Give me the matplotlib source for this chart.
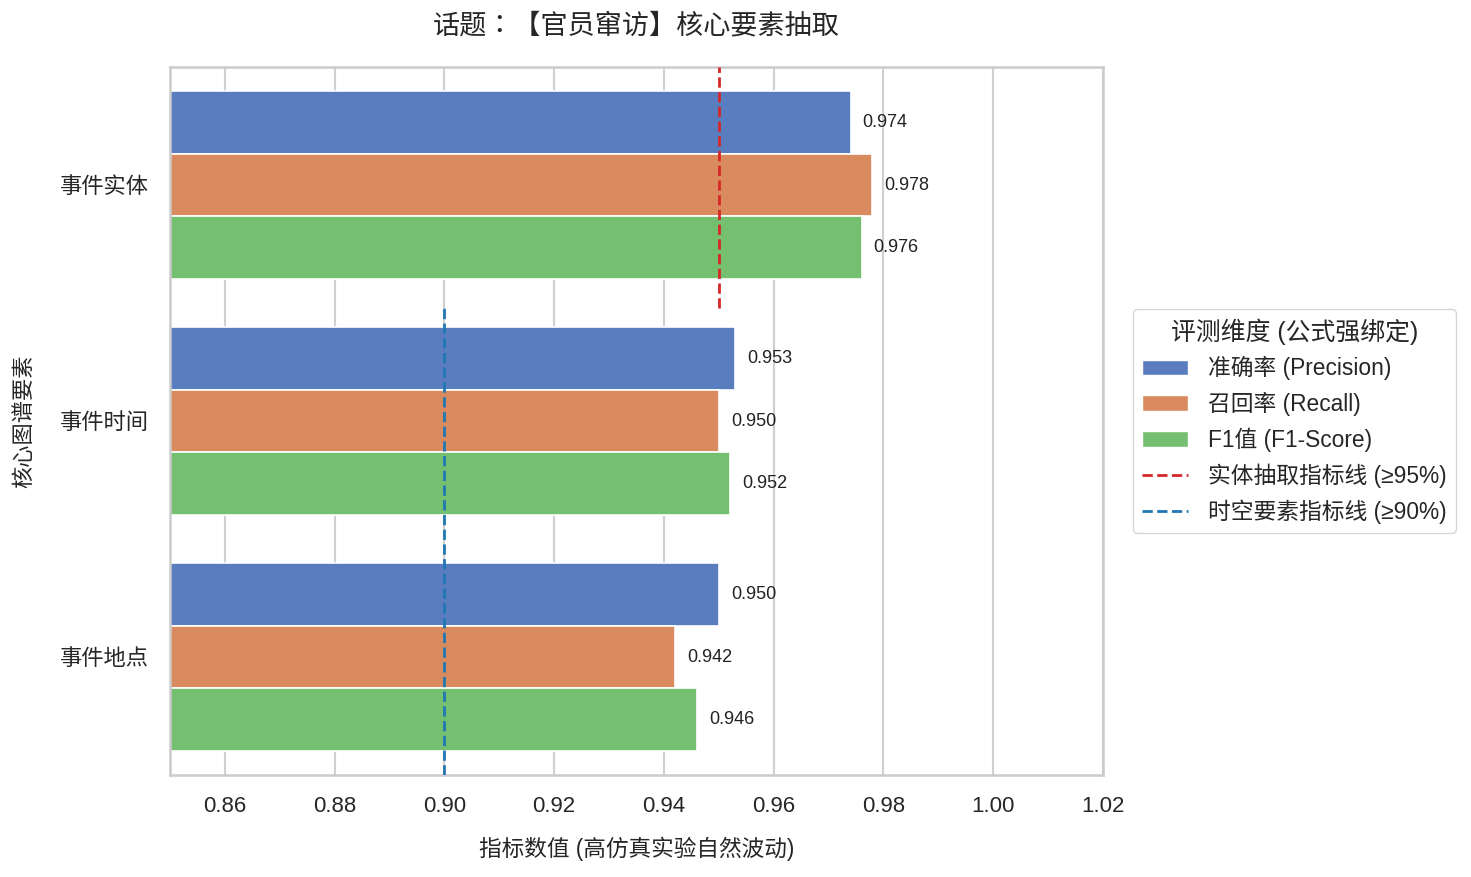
import numpy as np
import matplotlib
matplotlib.use("Agg")
import matplotlib.pyplot as plt
import seaborn as sns
from matplotlib.patches import Patch
from matplotlib.lines import Line2D

# ---------------- DATA ----------------
categories = ["事件实体", "事件时间", "事件地点"]
metric_names = ["准确率 (Precision)", "召回率 (Recall)", "F1值 (F1-Score)"]
precision = [0.974, 0.953, 0.950]
recall = [0.978, 0.950, 0.942]
f1 = [0.976, 0.952, 0.946]
entity_target = 0.95
spacetime_target = 0.90
x_ticks = [0.86, 0.88, 0.90, 0.92, 0.94, 0.96, 0.98, 1.00, 1.02]

# ---------------- STYLE ----------------
sns.set_theme(style="whitegrid")
plt.rcParams['font.family'] = ['Liberation Sans', 'Noto Sans CJK SC', 'DejaVu Sans']
plt.rcParams['axes.unicode_minus'] = False

palette = [sns.desaturate(c, 0.75) for c in sns.color_palette("muted", 3)]

fig = plt.figure(figsize=(14.71, 8.77), dpi=100)
ax = fig.add_axes([170 / 1471, 1 - 775 / 877, 933 / 1471, 708 / 877])

# ---------------- BARS ----------------
series = [precision, recall, f1]
y = np.arange(len(categories))
h = 0.8 / 3
for i, vals in enumerate(series):
    ypos = y - 0.8 / 2 + h * (i + 0.5)
    ax.barh(ypos, vals, height=h, color=palette[i], edgecolor="white",
            linewidth=1.2, label=metric_names[i], zorder=2)
    for yy, v in zip(ypos, vals):
        ax.text(v + 0.0022, yy, f"{v:.3f}", va="center", ha="left",
                fontsize=13, color="#222222", zorder=4)

# ---------------- TARGET LINES ----------------
split = (775 - 308) / 708
ax.axvline(entity_target, ymin=split, ymax=1, color="#d62728",
           linestyle="--", linewidth=2, zorder=3)
ax.axvline(spacetime_target, ymin=0, ymax=split, color="#1f77b4",
           linestyle="--", linewidth=2, zorder=3)

# ---------------- AXES ----------------
ax.set_xlim(0.85, 1.02)
ax.set_ylim(2.5, -0.5)
ax.set_xticks(x_ticks)
ax.set_xticklabels([f"{t:.2f}" for t in x_ticks])
ax.set_yticks(y)
ax.set_yticklabels(categories)
ax.tick_params(axis="both", labelsize=16, pad=15, length=0)
ax.grid(axis="y", visible=False)
ax.grid(axis="x", color="#d0d0d0", linewidth=1.5)
for sp in ax.spines.values():
    sp.set_color("#cccccc")
    sp.set_linewidth(1.8)

ax.set_xlabel("指标数值 (高仿真实验自然波动)", fontsize=16.3, labelpad=14)
ax.set_ylabel("核心图谱要素", fontsize=16, labelpad=18)
ax.set_title("话题：【官员窜访】核心要素抽取", fontsize=19.5, pad=24,
             family=['Liberation Sans', 'Noto Sans CJK TC', 'DejaVu Sans'])

# ---------------- LEGEND ----------------
handles = [Patch(facecolor=palette[i], label=metric_names[i]) for i in range(3)]
handles.append(Line2D([0], [0], color="#d62728", linestyle="--", linewidth=2,
                      label="实体抽取指标线 (≥95%)"))
handles.append(Line2D([0], [0], color="#1f77b4", linestyle="--", linewidth=2,
                      label="时空要素指标线 (≥90%)"))
leg = ax.legend(handles=handles, title="评测维度 (公式强绑定)", loc="center left",
                bbox_to_anchor=(1.032, 0.5), borderaxespad=0, fontsize=16.4,
                title_fontsize=17.9, frameon=True, handletextpad=0.9,
                labelspacing=0.5)
leg.get_frame().set_edgecolor("#cccccc")

fig.savefig("out.png", dpi=100)
